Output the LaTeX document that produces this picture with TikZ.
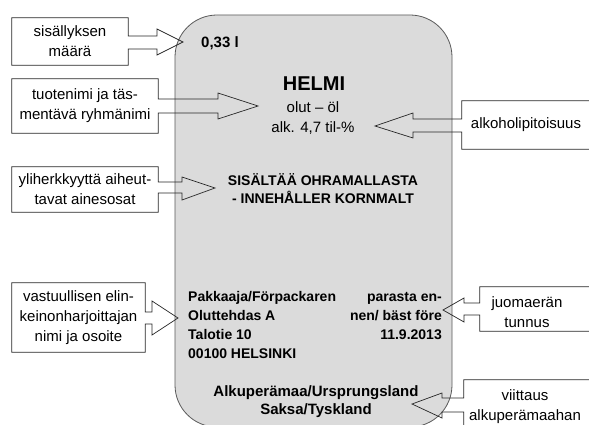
\documentclass[tikz,border=0pt]{standalone}
\usepackage{fontspec}
\setmainfont{Liberation Sans}
\begin{document}
\begin{tikzpicture}[x=1pt,y=-1pt,
  tbox/.style={inner sep=0pt, align=center, font=\fontsize{15}{20}\selectfont},
  cout/.style={draw=black!85, line width=0.7pt, line join=miter},
  reg/.style={inner sep=0pt, font=\fontsize{15}{20}\selectfont},
  bld/.style={inner sep=0pt, font=\bfseries\fontsize{14}{19}\selectfont},
  bldL/.style={inner sep=0pt, font=\bfseries\fontsize{15}{19}\selectfont},
  bldS/.style={inner sep=0pt, font=\bfseries\fontsize{14}{18}\selectfont},
  big/.style={inner sep=0pt, font=\bfseries\fontsize{20}{24}\selectfont}]
\useasboundingbox (0,0) rectangle (589,425);
% label
\node[draw=black!65, fill=black!14, line width=0.8pt, rounded corners=42pt,
      minimum width=277pt, minimum height=412pt, inner sep=0pt] (lab) at (313.5,221) {};
% label texts
\node[bldL, anchor=base west] (vol) at (201,48) {0,33 l};
\node[big, anchor=base] (name) at (314,91) {HELMI};
\node[reg, anchor=base] (kind) at (313,113) {olut – öl};
\node[reg, anchor=base] (alc) at (313,133) {alk. 4,7 til-\%};
\node[bldS, anchor=base] (ing1) at (323,185) {SISÄLTÄÄ OHRAMALLASTA};
\node[bldS, anchor=base] (ing2) at (323,203) {- INNEHÅLLER KORNMALT};
\node[bld, anchor=base west] (ad1) at (188,301) {Pakkaaja/Förpackaren};
\node[bld, anchor=base west] (ad2) at (188,320) {Oluttehdas A};
\node[bld, anchor=base west] (ad3) at (188,339) {Talotie 10};
\node[bld, anchor=base west] (ad4) at (188,358) {00100 HELSINKI};
\node[bld, anchor=base east] (bb1) at (442,301) {parasta en-};
\node[bld, anchor=base east] (bb2) at (442,320) {nen/ bäst före};
\node[bld, anchor=base east] (bb3) at (442,339) {11.9.2013};
\node[bldL, anchor=base] (or1) at (316,396) {Alkuperämaa/Ursprungsland};
\node[bldL, anchor=base] (or2) at (316,414) {Saksa/Tyskland};
% left callouts
\node[tbox, minimum width=116pt, minimum height=47pt] (b1) at (70,41.5) {sisällyksen\\määrä};
\draw[cout] (b1.north west) -- (b1.north east) -- (b1.east |- 0,36) -- (157,36) -- (157,29)
  -- (183,42) -- (157,55) -- (157,49) -- (b1.east |- 0,49) -- (b1.south east) -- (b1.south west) -- cycle;
\node[tbox, minimum width=146pt, minimum height=54pt] (b2) at (85,106) {tuotenimi ja täs-\\mentävä ryhmänimi};
\draw[cout] (b2.north west) -- (b2.north east) -- (b2.east |- 0,99) -- (218,99) -- (218,93)
  -- (258,106) -- (218,119) -- (218,113) -- (b2.east |- 0,113) -- (b2.south east) -- (b2.south west) -- cycle;
\node[tbox, minimum width=146pt, minimum height=45pt] (b4) at (85,189.5) {yliherkkyyttä aiheut-\\tavat ainesosat};
\draw[cout] (b4.north west) -- (b4.north east) -- (b4.east |- 0,182) -- (182,182) -- (182,177)
  -- (215,188) -- (182,200) -- (182,193) -- (b4.east |- 0,193) -- (b4.south east) -- (b4.south west) -- cycle;
\node[tbox, minimum width=133pt, minimum height=69pt] (b5) at (78.5,317.5) {vastuullisen elin-\\keinonharjoittajan\\nimi ja osoite};
\draw[cout] (b5.north west) -- (b5.north east) -- (b5.east |- 0,312) -- (152,312) -- (152,301)
  -- (178,318) -- (152,335) -- (152,324) -- (b5.east |- 0,324) -- (b5.south east) -- (b5.south west) -- cycle;
% right callouts
\node[tbox, minimum width=128pt, minimum height=48pt] (b3) at (526,125) {alkoholipitoisuus};
\draw[cout] (b3.north east) -- (b3.north west) -- (b3.west |- 0,119) -- (413,119) -- (413,113)
  -- (375,126) -- (413,138) -- (413,132) -- (b3.west |- 0,132) -- (b3.south west) -- (b3.south east);
\node[inner sep=0pt, minimum width=120pt, minimum height=44pt] (b6) at (540,309) {};
\node[tbox] (t6) at (527,312) {juomaerän\\tunnus};
\draw[cout] (b6.north east) -- (b6.north west) -- (b6.west |- 0,303) -- (464,303) -- (464,298)
  -- (443,310) -- (464,322) -- (464,315) -- (b6.west |- 0,315) -- (b6.south west) -- (b6.south east);
\node[inner sep=0pt, minimum width=136pt, minimum height=65pt] (b7) at (532,412.5) {};
\node[tbox] (t7) at (525,407) {viittaus\\alkuperämaahan};
\draw[cout] (b7.north east) -- (b7.north west) -- (b7.west |- 0,398) -- (442,398) -- (442,393)
  -- (412,404) -- (442,418) -- (442,412) -- (b7.west |- 0,412) -- (b7.south west);
\end{tikzpicture}
\end{document}
